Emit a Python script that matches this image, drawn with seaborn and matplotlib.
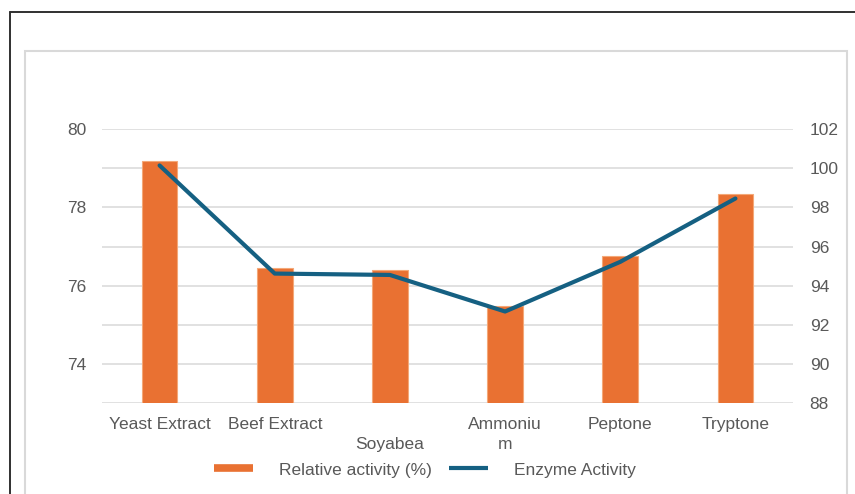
import numpy as np
import pandas as pd
import matplotlib
matplotlib.use("Agg")
import matplotlib.pyplot as plt
from matplotlib.lines import Line2D
from matplotlib.patches import Rectangle
import seaborn as sns

# Nitrogen sources tested and their measured responses
categories = ["Yeast Extract", "Beef Extract", "Soyabean", "Ammonium", "Peptone", "Tryptone"]
tick_labels = ["Yeast Extract", "Beef Extract", "\nSoyabea", "Ammoniu\nm", "Peptone", "Tryptone"]
relative_activity = [79.2, 76.45, 76.4, 75.47, 76.77, 78.34]   # left axis, bars
enzyme_activity = [100.15, 94.62, 94.55, 92.68, 95.22, 98.46]  # right axis, line

left_ticks = [73, 74, 75, 76, 77, 78, 79, 80]
left_tick_labels = ["", "74", "", "76", "", "78", "", "80"]
right_ticks = [88, 90, 92, 94, 96, 98, 100, 102]

series_names = ["Relative activity (%)", "Enzyme Activity"]

BAR_COLOR = "#E97132"
LINE_COLOR = "#156082"
TEXT_COLOR = "#595959"
GRID_COLOR = "#D9D9D9"

sns.set_theme(style="white")
plt.rcParams["font.family"] = ["Liberation Sans", "DejaVu Sans"]
plt.rcParams["font.size"] = 12.5

df = pd.DataFrame({"source": categories, "relative": relative_activity,
                   "enzyme": enzyme_activity, "pos": np.arange(len(categories))})

fig = plt.figure(figsize=(8.55, 4.94), dpi=100)
ax = fig.add_axes([0.1193, 0.1842, 0.8082, 0.5541])

sns.barplot(data=df, x="source", y="relative", color=BAR_COLOR, saturation=1,
            width=0.31, edgecolor="#F4A878", linewidth=0.8, ax=ax)
ax.set_ylim(73, 80)
ax.set_yticks(left_ticks)
ax.set_yticklabels(left_tick_labels)
ax.set_xticks(np.arange(len(categories)))
ax.set_xticklabels(tick_labels, linespacing=1.45)
ax.set_xlabel("")
ax.set_ylabel("")
ax.yaxis.grid(True, color=GRID_COLOR, linewidth=1.1)
ax.set_axisbelow(True)
for s in ax.spines.values():
    s.set_visible(False)
ax.tick_params(axis="both", length=0, colors=TEXT_COLOR, labelsize=12.5)
ax.tick_params(axis="y", pad=11)
ax.tick_params(axis="x", pad=10)

ax2 = ax.twinx()
sns.lineplot(data=df, x="pos", y="enzyme", color=LINE_COLOR, linewidth=3,
             legend=False, ax=ax2)
ax2.set_ylim(88, 102)
ax2.set_yticks(right_ticks)
ax2.set_ylabel("")
for s in ax2.spines.values():
    s.set_visible(False)
ax2.tick_params(axis="y", length=0, colors=TEXT_COLOR, labelsize=12.5, pad=12)
ax.set_xlim(-0.5, len(categories) - 0.5)

# Legend below the axis
handles = [Line2D([], [], color=BAR_COLOR, linewidth=5.5, solid_capstyle="butt"),
           Line2D([], [], color=LINE_COLOR, linewidth=3, solid_capstyle="butt")]
leg = fig.legend(handles, series_names, loc="center", bbox_to_anchor=(0.497, 1 - 470 / 494),
                 ncol=2, frameon=False, handlelength=2.25, handletextpad=1.5,
                 columnspacing=1.0, fontsize=12.5)
for t in leg.get_texts():
    t.set_color(TEXT_COLOR)

# Chart frames
fig.add_artist(Rectangle((25 / 855, -0.05), (847 - 25) / 855, 0.05 + 1 - 51 / 494,
                         transform=fig.transFigure, fill=False,
                         edgecolor=GRID_COLOR, linewidth=1.5))
fig.add_artist(Line2D([10 / 855, 10 / 855], [0, 1 - 12.5 / 494], transform=fig.transFigure,
                      color="#303030", linewidth=1.4))
fig.add_artist(Line2D([10 / 855, 1], [1 - 12.5 / 494, 1 - 12.5 / 494], transform=fig.transFigure,
                      color="#303030", linewidth=1.4))

fig.savefig("out.png", dpi=100, facecolor="white")
